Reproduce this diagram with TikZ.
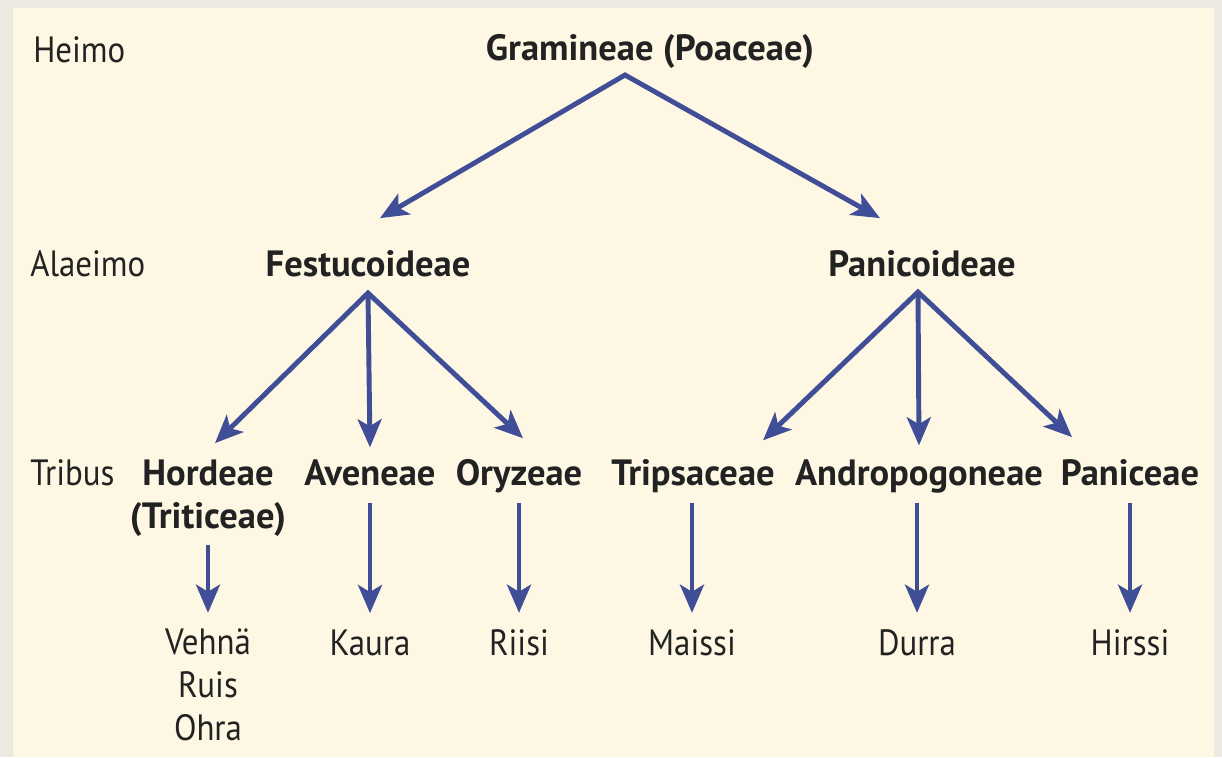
\documentclass[tikz,border=0pt]{standalone}
\usepackage{fontspec}
\setmainfont{PT Sans}[FakeStretch=0.9]
\newfontfamily\taxfont{PT Sans}
\usetikzlibrary{arrows.meta, positioning, calc}
\definecolor{grassblue}{HTML}{3F4E96}
\definecolor{paper}{HTML}{FDF7E3}
\definecolor{framegray}{HTML}{EDEAE3}
\definecolor{ink}{HTML}{222222}

\begin{document}
\begin{tikzpicture}[
  rank/.style={font=\fontsize{26}{30.3}\selectfont, text=ink,
    anchor=base west, inner sep=0pt},
  taxon/.style={font=\taxfont\bfseries\fontsize{26}{30.3}\selectfont,
    text=ink, anchor=base, inner sep=0pt, align=center},
  crop/.style={font=\fontsize{26}{30.3}\selectfont, text=ink,
    anchor=base, inner sep=0pt, align=center},
  arr/.style={-{Stealth[length=20pt, width=17pt, inset=5pt]},
    line width=3.5pt, grassblue},
  fork/.style={{Stealth[length=20pt, width=17pt, inset=5pt]}-{Stealth[length=20pt, width=17pt, inset=5pt]},
    line width=3.5pt, grassblue, line join=miter},
  drop/.style={arr, shorten <=0.45cm, shorten >=0.4cm}
]
  % Paper
  \fill[framegray] (0,0) rectangle (30.55,-18.925);
  \fill[paper] (0.325,-0.2) rectangle (30.35,-18.925);

  % Ranks
  \node[rank] (heimo)   at (0.825,-1.55) {Heimo};
  \node[rank] (alaeimo) at (0.75,-6.9)   {Alaeimo};
  \node[rank] (tribus)  at (0.75,-12.125) {Tribus};

  % Family and subfamilies
  \node[taxon] (gram) at (16.25,-1.5) {Gramineae (Poaceae)};
  \node[taxon] (fest) at (9.2,-6.9)   {Festucoideae};
  \node[taxon] (pani) at (23.05,-6.9) {Panicoideae};

  % Tribes (multi-line nodes sit on their last line)
  \node[taxon] (hord)  at (5.2,-13.2)     {Hordeae\\(Triticeae)};
  \node[taxon] (aven)  at (9.25,-12.125)  {Aveneae};
  \node[taxon] (oryz)  at (12.975,-12.125) {Oryzeae};
  \node[taxon] (trip)  at (17.325,-12.125) {Tripsaceae};
  \node[taxon] (andr)  at (22.975,-12.125) {Andropogoneae};
  \node[taxon] (panic) at (28.25,-12.125)  {Paniceae};

  % Crops
  \node[crop] (vehna)  at (5.2,-18.5)     {Vehnä\\Ruis\\Ohra};
  \node[crop] (kaura)  at (9.25,-16.375)  {Kaura};
  \node[crop] (riisi)  at (12.975,-16.375) {Riisi};
  \node[crop] (maissi) at (17.3,-16.375)  {Maissi};
  \node[crop] (durra)  at (22.925,-16.375) {Durra};
  \node[crop] (hirssi) at (28.25,-16.375) {Hirssi};

  % Forks
  \coordinate (gfork) at ([shift={(-0.625,-0.375)}]gram.base);
  \coordinate (ffork) at ([yshift=-0.425cm]fest.base);
  \coordinate (pfork) at ([shift={(-0.1,-0.4)}]pani.base);

  \draw[fork] ([shift={(0.3,0.79)}]fest.north) -- (gfork)
    -- ([shift={(-1.05,0.79)}]pani.north);

  \draw[fork] ([shift={(0.175,0.41)}]hord.north) -- (ffork)
    -- ([shift={(0.1,0.51)}]oryz.north);
  \draw[arr] (ffork) -- ([yshift=0.29cm]aven.north);

  \draw[fork] ([shift={(1.75,0.46)}]trip.north) -- (pfork)
    -- ([shift={(-1.45,0.54)}]panic.north);
  \draw[arr] (pfork) -- ([yshift=0.34cm]andr.north);

  % Tribes to crops
  \draw[drop, shorten <=0.425cm] (hord.base) -- (vehna.north);
  \foreach \t/\c in {aven/kaura, oryz/riisi, trip/maissi, andr/durra, panic/hirssi}
    \draw[drop] (\t.base -| \c.north) -- (\c.north);
\end{tikzpicture}
\end{document}
